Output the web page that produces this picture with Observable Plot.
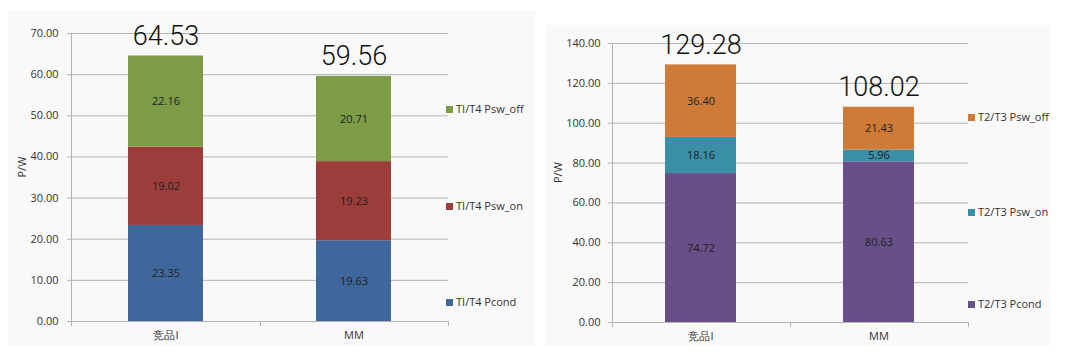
<!DOCTYPE html>
<html>
<head>
<meta charset="utf-8">
<script src="https://cdn.jsdelivr.net/npm/d3@7"></script>
<script src="https://cdn.jsdelivr.net/npm/@observablehq/plot@0.6"></script>
<style>
  html, body { margin: 0; padding: 0; background: #ffffff; }
  #wrap { position: relative; width: 1080px; height: 360px; overflow: hidden; font-family: "Open Sans", "Liberation Sans", sans-serif; }
  .bg { position: absolute; background: #f9f9f9; }
  .panel { position: absolute; top: 0; width: 540px; height: 360px; }
  .legend-item { position: absolute; font-size: 11px; color: #333; white-space: nowrap; line-height: 12px; transform: translateY(-50%); }
  .legend-item span.sw { display: inline-block; width: 7px; height: 7px; margin-right: 3px; vertical-align: 0px; }
</style>
</head>
<body>
<div id="wrap">
  <div class="bg" style="left:8px;top:10px;width:527px;height:336px;"></div>
  <div class="bg" style="left:545px;top:25px;width:505px;height:321px;"></div>
  <div class="panel" id="left" style="left:0px;"></div>
  <div class="panel" id="right" style="left:540px;"></div>
</div>
<script>
// ---------- data ----------
const categories = ["竞品I", "MM"];

const leftSeries = ["TI/T4 Pcond", "TI/T4 Psw_on", "TI/T4 Psw_off"];
const leftPcond  = [23.35, 19.63];
const leftPswOn  = [19.02, 19.23];
const leftPswOff = [22.16, 20.71];
const leftTotals = [64.53, 59.56];
const leftTicks  = [0, 10, 20, 30, 40, 50, 60, 70];

const rightSeries = ["T2/T3 Pcond", "T2/T3 Psw_on", "T2/T3 Psw_off"];
const rightPcond  = [74.72, 80.63];
const rightPswOn  = [18.16, 5.96];
const rightPswOff = [36.40, 21.43];
const rightTotals = [129.28, 108.02];
const rightTicks  = [0, 20, 40, 60, 80, 100, 120, 140];

const leftColors  = ["#3f679c", "#9d3d3b", "#7d9c46"];
const rightColors = ["#684f87", "#3a8fa7", "#cf7b37"];

const yLabel = "P/W";
const fmt = d3.format(".2f");

function buildPanel(el, cfg) {
  const rows = [];
  cfg.series.forEach((s, i) => {
    cfg.categories.forEach((c, j) => {
      rows.push({category: c, series: s, value: cfg.values[i][j]});
    });
  });
  const totals = cfg.categories.map((c, j) => ({category: c, total: cfg.totals[j]}));
  const ymax = cfg.ticks[cfg.ticks.length - 1];
  const axisColor = "#b3b3b3";

  const frameMark = (index, scales, values, dimensions) => {
    const x = scales.x, y = scales.y;
    const {width, height, marginLeft, marginRight} = dimensions;
    const x0 = marginLeft, x1 = width - marginRight;
    const step = x.step ? x.step() : (x1 - x0) / cfg.categories.length;
    const bw = x.bandwidth ? x.bandwidth() : 0;
    const bounds = [x0];
    cfg.categories.forEach((c, j) => {
      if (j > 0) bounds.push(x(c) - (step - bw) / 2);
    });
    bounds.push(x1);
    const yb = y(0), yt = y(ymax);
    const g = d3.create("svg:g").attr("stroke", axisColor).attr("stroke-width", 1).attr("shape-rendering", "crispEdges");
    g.append("line").attr("x1", x0 + 0.5).attr("x2", x0 + 0.5).attr("y1", yt).attr("y2", yb);
    g.append("line").attr("x1", x0).attr("x2", x1).attr("y1", yb + 0.5).attr("y2", yb + 0.5);
    bounds.forEach(b => {
      g.append("line").attr("x1", Math.round(b) + 0.5).attr("x2", Math.round(b) + 0.5).attr("y1", yb).attr("y2", yb + 5);
    });
    return g.node();
  };

  const chart = Plot.plot({
    width: 540,
    height: 360,
    marginLeft: cfg.marginLeft,
    marginRight: cfg.marginRight,
    marginTop: cfg.marginTop,
    marginBottom: cfg.marginBottom,
    style: {background: "transparent", fontFamily: "'Open Sans', 'Liberation Sans', sans-serif", fontSize: "11px", color: "#333", overflow: "visible"},
    x: {domain: cfg.categories, paddingInner: 0.6, paddingOuter: 0.3, label: null},
    y: {domain: [0, ymax], label: null},
    color: {domain: cfg.series, range: cfg.colors},
    marks: [
      Plot.gridY(cfg.ticks.slice(1), {stroke: axisColor, strokeOpacity: 1}),
      Plot.barY(rows, {x: "category", y: "value", fill: "series", order: cfg.series}),
      Plot.text(rows, Plot.stackY({x: "category", y: "value", z: "series", order: cfg.series, text: d => fmt(d.value), fill: "#1e1e1e", fontSize: 11})),
      Plot.text(totals, {x: "category", y: "total", text: d => fmt(d.total), dy: -20, fontSize: 27, fontWeight: 300, fill: "#111", fontFamily: "Roboto, 'Noto Sans', sans-serif"}),
      Plot.axisY(cfg.ticks, {tickFormat: ".2f", tickSize: 4, tickPadding: cfg.tickPadding, stroke: axisColor, color: "#333", label: null}),
      Plot.text([yLabel], {frameAnchor: "left", rotate: -90, dx: -cfg.labelOffset, fontSize: 11, fill: "#333"}),
      Plot.axisX({tickSize: 0, tickPadding: 10, color: "#333"}),
      frameMark
    ]
  });
  el.appendChild(chart);

  cfg.series.forEach((s, i) => {
    const item = document.createElement("div");
    item.className = "legend-item";
    item.style.left = cfg.legendLeft + "px";
    item.style.top = cfg.legendTops[i] + "px";
    const sw = document.createElement("span");
    sw.className = "sw";
    sw.style.background = cfg.colors[i];
    item.appendChild(sw);
    item.appendChild(document.createTextNode(s));
    el.appendChild(item);
  });
}

buildPanel(document.getElementById("left"), {
  categories, series: leftSeries,
  values: [leftPcond, leftPswOn, leftPswOff],
  totals: leftTotals, ticks: leftTicks, colors: leftColors,
  marginLeft: 71, marginRight: 92, marginTop: 33, marginBottom: 39,
  tickPadding: 9, labelOffset: 49,
  legendLeft: 446, legendTops: [302, 206, 109]
});

buildPanel(document.getElementById("right"), {
  categories, series: rightSeries,
  values: [rightPcond, rightPswOn, rightPswOff],
  totals: rightTotals, ticks: rightTicks, colors: rightColors,
  marginLeft: 72, marginRight: 112, marginTop: 43, marginBottom: 38,
  tickPadding: 8, labelOffset: 54,
  legendLeft: 428, legendTops: [304, 212, 117]
});
</script>
</body>
</html>
